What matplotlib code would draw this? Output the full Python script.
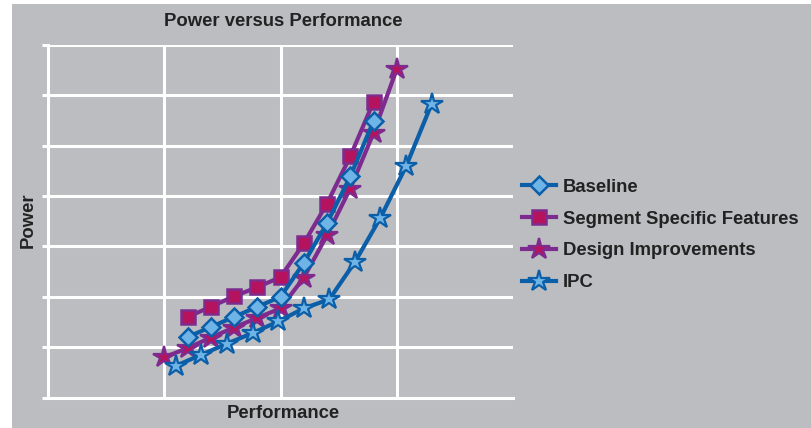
import matplotlib
matplotlib.use("Agg")
import matplotlib.pyplot as plt
from matplotlib.patches import Rectangle

# Dados (unidades arbitrárias)
x_base = [1.2, 1.4, 1.6, 1.8, 2.0, 2.2, 2.4, 2.6, 2.8]
y_base = [1.20, 1.40, 1.60, 1.80, 2.00, 2.67, 3.46, 4.39, 5.49]

x_seg = [1.2, 1.4, 1.6, 1.8, 2.0, 2.2, 2.4, 2.6, 2.8]
y_seg = [1.60, 1.80, 2.01, 2.19, 2.39, 3.06, 3.85, 4.79, 5.87]

x_design = [1.0, 1.2, 1.4, 1.6, 1.8, 2.0, 2.2, 2.4, 2.6, 2.8, 3.0]
y_design = [0.80, 0.98, 1.19, 1.39, 1.58, 1.77, 2.38, 3.22, 4.15, 5.25, 6.52]

x_ipc = [1.10, 1.32, 1.54, 1.76, 1.98, 2.20, 2.42, 2.64, 2.86, 3.08, 3.30]
y_ipc = [0.63, 0.85, 1.07, 1.28, 1.51, 1.77, 1.95, 2.69, 3.57, 4.59, 5.83]

nomes = ["Baseline", "Segment Specific Features", "Design Improvements", "IPC"]

# Cores
CINZA = "#bcbdc1"
AZUL = "#0b5ea8"
AZUL_CLARO = "#6fb4e6"
ROXO = "#7e2b8f"
CARMIM = "#b5135e"

plt.rcParams["font.family"] = ["Liberation Sans", "DejaVu Sans"]

fig = plt.figure(figsize=(8.11, 4.28), dpi=100, facecolor="white")
fundo = Rectangle((12 / 811, 0), 1, 1 - 4 / 428, transform=fig.transFigure,
                  facecolor=CINZA, edgecolor="none", zorder=-10)
fig.add_artist(fundo)

ax = fig.add_axes([48 / 811, 30.5 / 428, 465 / 811, 352.5 / 428])
ax.set_facecolor("none")
ax.set_zorder(1)

ax.plot(x_base, y_base, color=AZUL, lw=3, marker="D", ms=9.5,
        mfc=AZUL_CLARO, mec=AZUL, mew=1.8, label=nomes[0], zorder=4)
ax.plot(x_seg, y_seg, color=ROXO, lw=3, marker="s", ms=10,
        mfc=CARMIM, mec=ROXO, mew=1.8, label=nomes[1], zorder=3)
ax.plot(x_design, y_design, color=ROXO, lw=3, marker="*", ms=16,
        mfc=CARMIM, mec=ROXO, mew=1.6, label=nomes[2], zorder=3)
ax.plot(x_ipc, y_ipc, color=AZUL, lw=3, marker="*", ms=16,
        mfc=AZUL_CLARO, mec=AZUL, mew=1.6, label=nomes[3], zorder=4)

ax.set_xlim(0, 4)
ax.set_ylim(0, 7)
ax.set_xticks([1, 2, 3])
ax.set_yticks(range(0, 8))
ax.grid(True, color="white", lw=2.2)
ax.set_axisbelow(True)
for lado in ["top", "right"]:
    ax.spines[lado].set_visible(False)
for lado in ["left", "bottom"]:
    ax.spines[lado].set_color("white")
    ax.spines[lado].set_linewidth(2.2)
ax.tick_params(axis="y", colors="white", length=4, width=2.2, labelleft=False)
ax.tick_params(axis="x", length=0, labelbottom=False)

fig.text(283 / 811, 1 - 21 / 428, "Power versus Performance", ha="center", va="center",
         fontsize=13.3, fontweight="bold", color="#222222")
fig.text(283 / 811, 1 - 414 / 428, "Performance", ha="center", va="center",
         fontsize=13.3, fontweight="bold", color="#222222")
fig.text(28 / 811, 1 - 220 / 428, "Power", ha="center", va="center", rotation=90,
         fontsize=13.3, fontweight="bold", color="#222222")

leg = fig.legend(loc="center left", bbox_to_anchor=(522 / 811, 1 - 235 / 428),
                 frameon=False, borderaxespad=0, borderpad=0,
                 handlelength=1.85, handletextpad=0.38, labelspacing=0.8,
                 prop={"weight": "bold", "size": 13.3})
for t in leg.get_texts():
    t.set_color("#222222")

fig.savefig("out.png", dpi=100, facecolor=fig.get_facecolor())
